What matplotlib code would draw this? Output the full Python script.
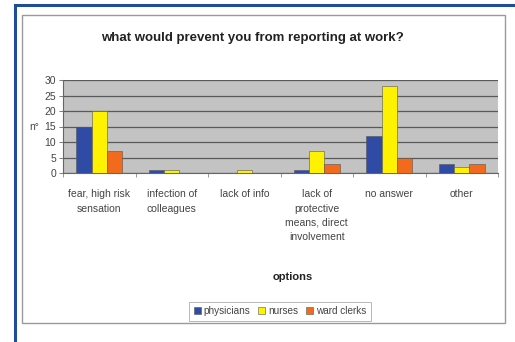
import numpy as np
import matplotlib.pyplot as plt
from matplotlib.patches import Rectangle
from matplotlib.lines import Line2D

# data
categories = ["fear, high risk\nsensation", "infection of\ncolleagues", "lack of info",
              "lack of\nprotective\nmeans, direct\ninvolvement", "no answer", "other"]
physicians = [15, 1, 0, 1, 12, 3]
nurses = [20, 1, 1, 7, 28, 2]
ward_clerks = [7, 0, 0, 3, 5, 3]
series_names = ["physicians", "nurses", "ward clerks"]
yticks = [0, 5, 10, 15, 20, 25, 30]

colors = ["#2f4ba6", "#fff200", "#f26b1d"]

plt.rcParams["font.family"] = ["Liberation Sans", "DejaVu Sans"]

fig = plt.figure(figsize=(5.15, 3.42), dpi=100)
fig.patch.set_facecolor("white")

# outer blue frame (left and top edges) and inner grey chart border
fig.add_artist(Line2D([15 / 515, 15 / 515], [0, 1 - 5 / 342], color="#1f4e96", lw=2.2))
fig.add_artist(Line2D([15 / 515, 1], [1 - 5 / 342, 1 - 5 / 342], color="#1f4e96", lw=2.2))
fig.add_artist(Rectangle((22 / 515, 1 - 323 / 342), (505 - 22) / 515, (323 - 15) / 342,
                         fill=False, edgecolor="#9a9a9a", lw=1.0))

ax = fig.add_axes([63 / 515, 1 - 173 / 342, (498 - 63) / 515, (173 - 80) / 342])
ax.set_facecolor("#c3c3c3")

x = np.arange(len(categories))
w = 0.21
for i, (vals, name) in enumerate(zip([physicians, nurses, ward_clerks], series_names)):
    ax.bar(x + (i - 1) * w, vals, width=w, color=colors[i], label=name,
           edgecolor="#555555", linewidth=0.4, zorder=3)

ax.set_ylim(0, 30)
ax.set_xlim(-0.5, len(categories) - 0.5)
ax.set_yticks(yticks)
ax.yaxis.grid(True, color="#5a5a5a", lw=0.9, zorder=1)
ax.set_axisbelow(True)
ax.tick_params(axis="y", labelsize=7.5, labelcolor="#444444", length=3, width=0.6,
               color="#666666", pad=2)
ax.set_xticks(np.arange(len(categories) + 1) - 0.5, minor=False)
ax.set_xticklabels([])
ax.tick_params(axis="x", length=3, width=0.6, color="#888888")
for i, c in enumerate(categories):
    ax.text(i, -5.2, c, ha="center", va="top", fontsize=7.5, color="#444444",
            linespacing=1.55)

for s in ["top", "right"]:
    ax.spines[s].set_visible(False)
ax.spines["left"].set_color("#666666")
ax.spines["bottom"].set_color("#666666")

ax.text(-0.055, 15, "n°", transform=ax.get_yaxis_transform(), ha="right", va="center",
        fontsize=7.5, color="#444444")

fig.text(0.49, 1 - 38 / 342, "what would prevent you from reporting at work?",
         ha="center", va="center", fontsize=9.5, fontweight="bold", color="#222222")
fig.text(293 / 515, 1 - 277 / 342, "options", ha="center", va="center", fontsize=8,
         fontweight="bold", color="#222222")

leg = fig.legend(loc="center", bbox_to_anchor=(280 / 515, 1 - 311 / 342), ncol=3,
                 fontsize=7.2, frameon=True, fancybox=False, handlelength=0.7,
                 handleheight=0.7, handletextpad=0.3, columnspacing=0.8,
                 borderpad=0.45, edgecolor="#999999")
leg.get_frame().set_linewidth(0.6)
for t in leg.get_texts():
    t.set_color("#444444")

fig.savefig("out.png", dpi=100)
